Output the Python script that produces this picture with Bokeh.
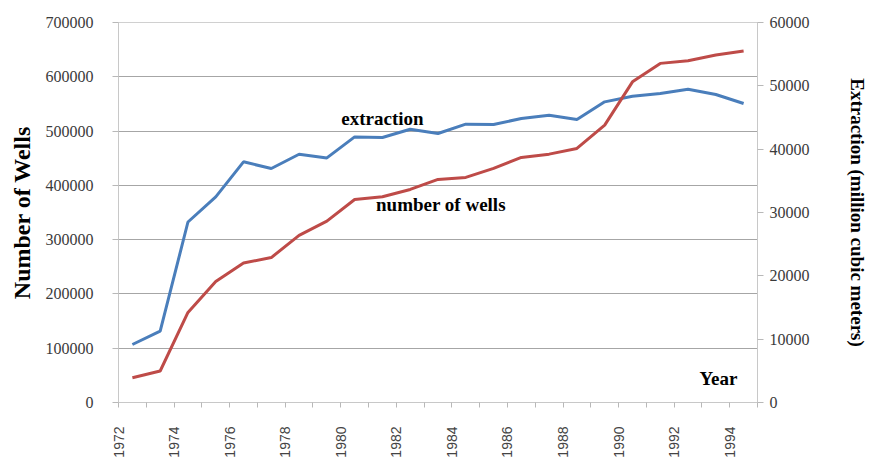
import math
from bokeh.plotting import figure
from bokeh.models import LinearAxis, Range1d, FixedTicker, Label, BasicTickFormatter
from bokeh.embed import file_html
from bokeh.resources import INLINE

years = list(range(1972, 1995))
wells = [45500, 58000, 166000, 223000, 257000, 267000, 308000, 334000, 374000,
         379000, 392500, 411000, 414600, 431200, 451400, 457500, 468000, 511000,
         590700, 624700, 629500, 640000, 647300]
extraction = [9160, 11260, 28500, 32470, 38000, 36950, 39200, 38620, 41940,
              41840, 43150, 42470, 43950, 43900, 44840, 45370, 44690, 47470,
              48370, 48790, 49470, 48630, 47210]
wells_ticks = [0, 100000, 200000, 300000, 400000, 500000, 600000, 700000]
extraction_ticks = [0, 10000, 20000, 30000, 40000, 50000, 60000]
year_labels = ["1972", "1974", "1976", "1978", "1980", "1982", "1984",
               "1986", "1988", "1990", "1992", "1994"]

SERIF = "Liberation Serif"
BLUE = "#4A7EBB"
RED = "#BE4B48"

p = figure(width=870, height=460,
           x_range=Range1d(years[0] - 0.5, years[-1] + 0.5),
           y_range=Range1d(wells_ticks[0], wells_ticks[-1]),
           output_backend="svg", toolbar_location=None,
           min_border_left=118, min_border_right=104,
           min_border_top=22, min_border_bottom=58)
p.extra_y_ranges = {"ext": Range1d(extraction_ticks[0], extraction_ticks[-1])}
p.outline_line_color = "#d0d0d0"
p.background_fill_color = "white"
p.border_fill_color = "white"

# x axis: category boundaries as ticks, labels at every other boundary
x_ticks = [y - 0.5 for y in years] + [years[-1] + 0.5]
overrides = {}
for t in x_ticks:
    lab = str(int(t + 0.5))
    overrides[t] = lab if lab in year_labels else ""
xa = p.xaxis[0]
xa.ticker = FixedTicker(ticks=x_ticks)
xa.major_label_overrides = overrides
xa.major_label_orientation = math.pi / 2
xa.major_label_text_font = "Liberation Sans"
xa.major_label_text_font_size = "14px"
xa.major_label_text_color = "#444444"
xa.major_label_standoff = 19
xa.major_tick_out = 5
xa.major_tick_in = 0
xa.minor_tick_line_color = None
xa.axis_line_color = "#c8c8c8"
xa.major_tick_line_color = "#b8b8b8"

# left axis
ya = p.yaxis[0]
ya.ticker = FixedTicker(ticks=wells_ticks)
ya.formatter = BasicTickFormatter(use_scientific=False)
ya.axis_label = "Number of Wells"
ya.axis_label_text_font = SERIF
ya.axis_label_text_font_style = "bold"
ya.axis_label_text_font_size = "24px"
ya.axis_label_text_color = "black"
ya.axis_label_standoff = 8
ya.major_label_text_font = SERIF
ya.major_label_text_font_size = "16px"
ya.major_label_text_color = "#3a3a3a"
ya.major_label_standoff = 19
ya.major_tick_out = 6
ya.major_tick_in = 0
ya.minor_tick_line_color = None
ya.axis_line_color = "#c8c8c8"
ya.major_tick_line_color = "#b8b8b8"

# right axis
ra = LinearAxis(y_range_name="ext", ticker=FixedTicker(ticks=extraction_ticks),
                formatter=BasicTickFormatter(use_scientific=False),
                axis_label="Extraction (million cubic meters)")
ra.axis_label_text_font = SERIF
ra.axis_label_text_font_style = "bold"
ra.axis_label_text_font_size = "19px"
ra.axis_label_text_color = "black"
ra.axis_label_standoff = 34
ra.major_label_text_font = SERIF
ra.major_label_text_font_size = "16px"
ra.major_label_text_color = "#3a3a3a"
ra.major_label_standoff = 6
ra.major_tick_out = 6
ra.major_tick_in = 0
ra.minor_tick_line_color = None
ra.axis_line_color = "#c8c8c8"
ra.major_tick_line_color = "#b8b8b8"
p.add_layout(ra, "right")

# grids
p.xgrid.visible = False
p.ygrid.ticker = FixedTicker(ticks=wells_ticks[1:-1])
p.ygrid.grid_line_color = "#a6a6a6"
p.ygrid.grid_line_width = 1

# series
p.line(years, extraction, y_range_name="ext", line_color=BLUE, line_width=3)
p.line(years, wells, line_color=RED, line_width=3)

# annotations
for txt, x, y in [("extraction", 1979.52, 524000),
                  ("number of wells", 1980.77, 364000),
                  ("Year", 1992.41, 45000)]:
    p.add_layout(Label(x=x, y=y, text=txt, text_font=SERIF,
                       text_font_style="bold", text_font_size="19px",
                       text_color="black", text_baseline="alphabetic"))

open("out.html", "w").write(file_html(p, INLINE))
